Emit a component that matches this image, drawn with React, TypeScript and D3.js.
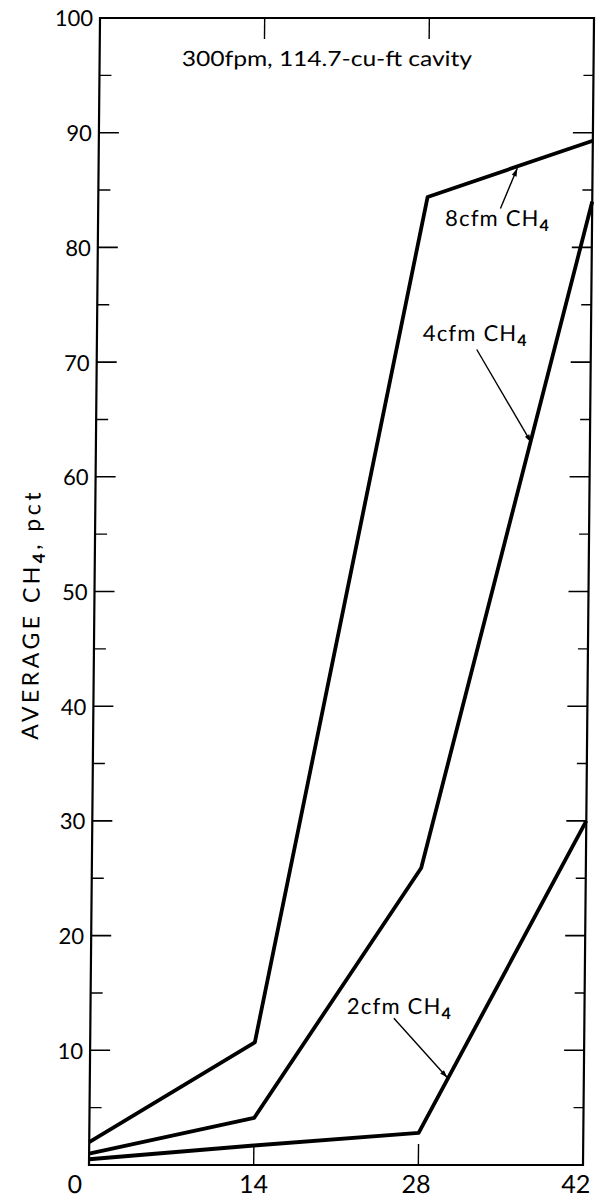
import React from "react";
import * as d3 from "d3";

const xValues = [0, 14, 28, 42];
const ch4_8cfm = [2.0, 10.7, 84.4, 89.3];
const ch4_4cfm = [1.0, 4.1, 25.9, 84.0];
const ch4_2cfm = [0.5, 1.7, 2.8, 30.0];

const xTickValues = [0, 14, 28, 42];
const xTickLabels = ["0", "14", "28", "42"];
const yMajorTicks = [10, 20, 30, 40, 50, 60, 70, 80, 90, 100];
const yMinorTicks = [5, 15, 25, 35, 45, 55, 65, 75, 85, 95];

const titleText = "300fpm, 114.7-cu-ft cavity";
const yTitle = "AVERAGE CH";

// annotation: label position (data units), arrow tail & tip (data units)
const annLabels = ["8cfm CH", "4cfm CH", "2cfm CH"];
const annTextX = [29.5, 27.7, 21.8];
const annTextY = [81.9, 71.8, 13.2];
const annTailX = [34.2, 32.3, 25.8];
const annTailY = [83.4, 71.1, 12.8];
const annTipX = [35.6, 37.0, 30.4];
const annTipY = [86.9, 63.0, 7.6];

const W = 601;
const H = 1200;
const left = 89;
const right = 583;
const top = 18;
const bottom = 1165;
const FONT = "Lato, 'Liberation Sans', sans-serif";

export default function App() {
  const x = d3.scaleLinear().domain([0, 42]).range([left, right]);
  const y = d3.scaleLinear().domain([0, 100]).range([bottom, top]);
  const line = d3
    .line<number>()
    .x((_, i) => x(xValues[i]))
    .y((d) => y(d));
  const series = [ch4_8cfm, ch4_4cfm, ch4_2cfm];
  const skew = -0.55;
  const xLabelDx = [-14, 0, -2, -7];

  return (
    <div>
      <style>{`body{margin:0;background:#fff}`}</style>
      <svg width={W} height={H} style={{ display: "block" }}>
        <rect width={W} height={H} fill="#fff" />
        <defs>
          <marker
            id="ah"
            viewBox="0 0 10 10"
            refX="10"
            refY="5"
            markerWidth="10"
            markerHeight="8"
            markerUnits="userSpaceOnUse"
            orient="auto"
          >
            <path d="M0,1.8 L10,5 L0,8.2 Z" fill="#000" />
          </marker>
        </defs>
        <g transform={`translate(0,${bottom}) skewX(${skew}) translate(0,${-bottom})`}>
          {/* frame */}
          <rect
            x={left}
            y={top}
            width={right - left}
            height={bottom - top}
            fill="none"
            stroke="#000"
            strokeWidth={2.2}
          />
          {/* y ticks */}
          {yMajorTicks.map((t) => (
            <g key={"M" + t}>
              <line x1={left} x2={left + 20} y1={y(t)} y2={y(t)} stroke="#000" strokeWidth={1.6} />
              <line x1={right} x2={right - 20} y1={y(t)} y2={y(t)} stroke="#000" strokeWidth={1.6} />
              <text
                x={left - 7}
                y={y(t)}
                textAnchor="end"
                dominantBaseline="central"
                fontFamily={FONT}
                fontSize={22}
              >
                {t}
              </text>
            </g>
          ))}
          {yMinorTicks.map((t) => (
            <g key={"m" + t}>
              <line x1={left} x2={left + 12} y1={y(t)} y2={y(t)} stroke="#000" strokeWidth={1.4} />
              <line x1={right} x2={right - 10} y1={y(t)} y2={y(t)} stroke="#000" strokeWidth={1.4} />
            </g>
          ))}
          {/* x ticks */}
          {xTickValues.map((t, i) => (
            <g key={"x" + t}>
              {t > 0 && t < 42 && (
                <>
                  <line x1={x(t)} x2={x(t)} y1={bottom} y2={bottom - 21} stroke="#000" strokeWidth={1.4} />
                  <line x1={x(t)} x2={x(t)} y1={top} y2={top + 21} stroke="#000" strokeWidth={1.4} />
                </>
              )}
              <text
                x={x(t) + xLabelDx[i]}
                y={bottom + 28}
                textAnchor="middle"
                fontFamily={FONT}
                fontSize={25}
              >
                {xTickLabels[i]}
              </text>
            </g>
          ))}
          {/* series */}
          {series.map((s, i) => (
            <path
              key={"s" + i}
              d={line(s) || ""}
              fill="none"
              stroke="#000"
              strokeWidth={3.8}
              strokeLinejoin="round"
            />
          ))}
          {/* annotations */}
          {annLabels.map((lab, i) => (
            <g key={"a" + i}>
              <text x={x(annTextX[i])} y={y(annTextY[i])} fontFamily={FONT} fontSize={22} letterSpacing={1.2}>
                {lab}
                <tspan fontSize={16} dy={5} fontWeight="bold">
                  4
                </tspan>
              </text>
              <line
                x1={x(annTailX[i])}
                y1={y(annTailY[i])}
                x2={x(annTipX[i])}
                y2={y(annTipY[i])}
                stroke="#000"
                strokeWidth={1.4}
                markerEnd="url(#ah)"
              />
            </g>
          ))}
          {/* title */}
          <text
            x={x(7.0)}
            y={y(95.8)}
            fontFamily={FONT}
            fontSize={21}
            textLength={290}
            lengthAdjust="spacingAndGlyphs"
          >
            {titleText}
          </text>
          {/* y axis title */}
          <text
            transform={`translate(34,${y(48)}) rotate(-90)`}
            textAnchor="middle"
            fontFamily={FONT}
            fontSize={23}
            letterSpacing={3.5}
          >
            {yTitle}
            <tspan fontSize={17} dy={5} fontWeight="bold">
              4
            </tspan>
            <tspan dy={-5}>, pct</tspan>
          </text>
        </g>
      </svg>
    </div>
  );
}
